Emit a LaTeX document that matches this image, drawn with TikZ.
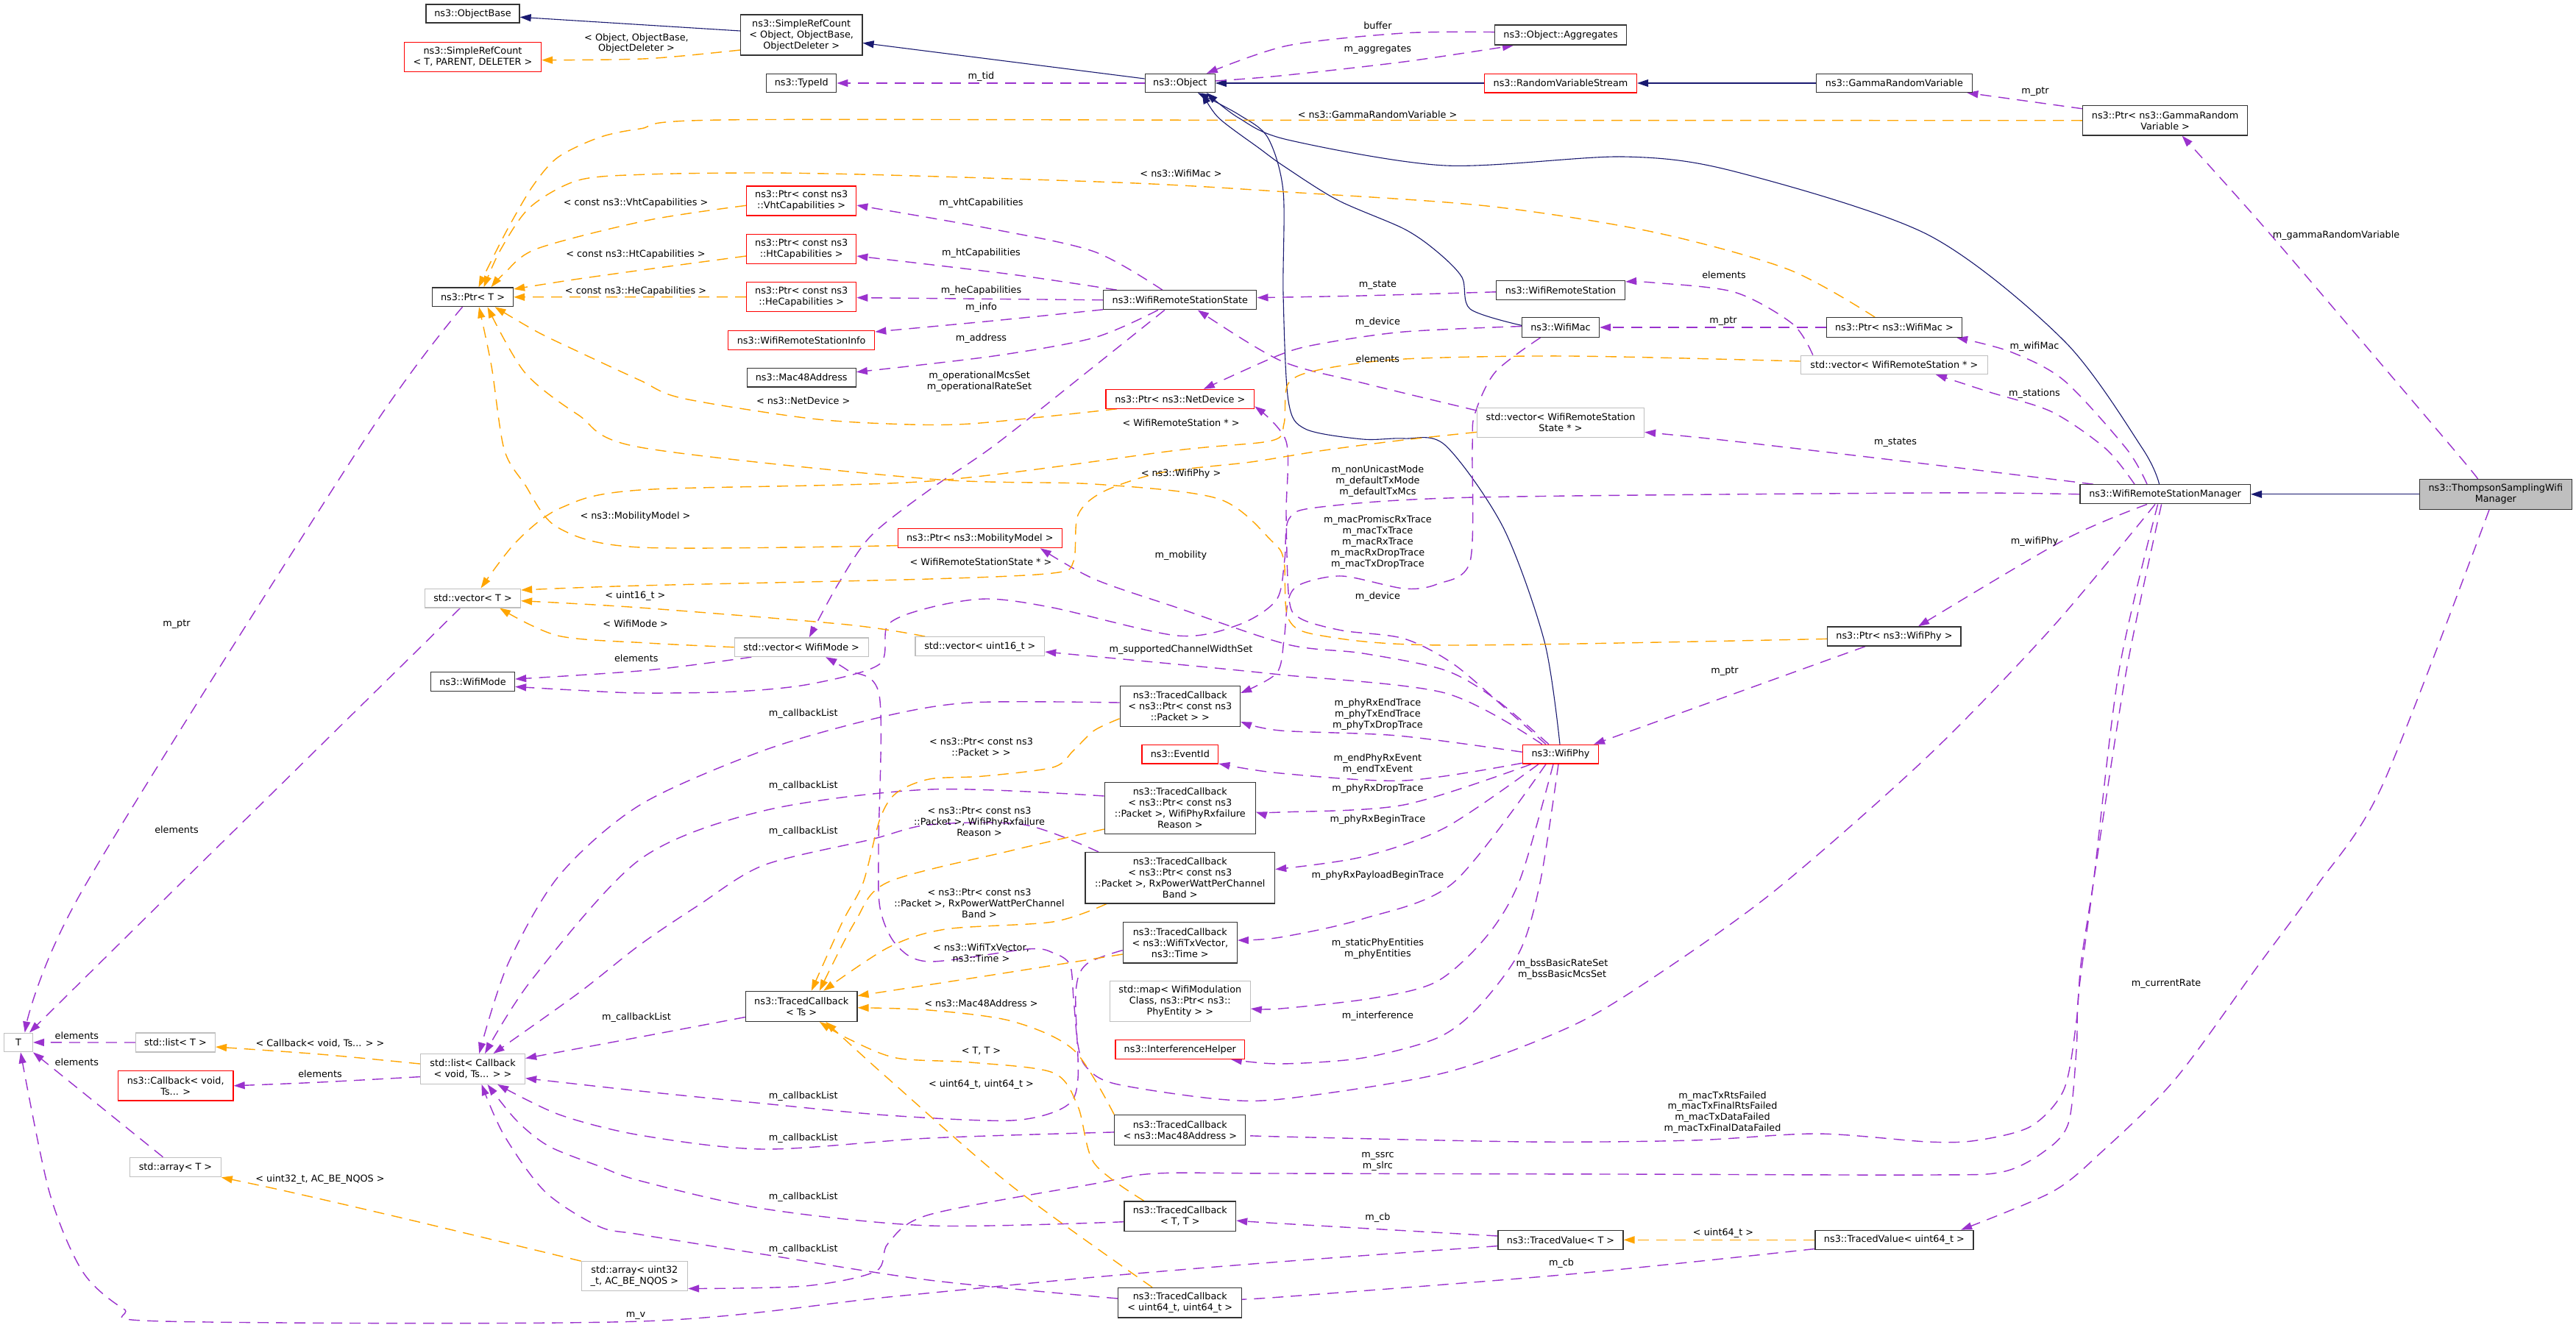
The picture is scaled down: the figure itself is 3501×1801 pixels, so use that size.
\documentclass[tikz,border=0pt]{standalone}
\usepackage{fontspec}
\setmainfont{DejaVu Sans}
\usetikzlibrary{arrows.meta}
\definecolor{cpurple}{HTML}{9A32CD}
\definecolor{corange}{HTML}{FFA500}
\definecolor{cnavy}{HTML}{191970}
\definecolor{cgrayb}{HTML}{BFBFBF}
\definecolor{cnode}{HTML}{333333}
\pgfdeclarelayer{bg}
\pgfsetlayers{bg,main}
\begin{document}
\begin{tikzpicture}[x=1pt,y=-1pt,
  every node/.style={font=\fontsize{12.8}{14.9}\selectfont, inner sep=0pt},
  box/.style={draw=cnode, fill=white, line width=1.3pt, align=center},
  boxred/.style={box, draw=red},
  boxgray/.style={box, draw=cgrayb},
  lbl/.style={align=center, text=black},
  einh/.style={draw=cnavy, line width=1.1pt, -{Triangle[length=15pt,width=10pt]}},
  euse/.style={draw=cpurple, line width=1.4pt, dash pattern=on 15pt off 10pt, -{Triangle[length=15pt,width=10pt]}},
  etmpl/.style={draw=corange, line width=1.4pt, dash pattern=on 15pt off 10pt, -{Triangle[length=15pt,width=10pt]}},
]
\useasboundingbox (0,0) rectangle (3501,1801);

% ---------------- nodes ----------------
\node[box, minimum width=127pt, minimum height=25pt] (objbase) at (642.5,18.5) {ns3::ObjectBase};
\node[boxred, minimum width=186pt, minimum height=40pt] (srcT) at (642.5,77.2) {ns3::SimpleRefCount\\< T, PARENT, DELETER >};
\node[box, minimum width=110pt, minimum height=25.6pt] (ptrT) at (642.5,403.8) {ns3::Ptr< T >};
\node[box, minimum width=165.5pt, minimum height=55pt] (srcO) at (1089.2,47.6) {ns3::SimpleRefCount\\< Object, ObjectBase,\\ObjectDeleter >};
\node[box, minimum width=95pt, minimum height=25pt] (typeid) at (1089.2,113) {ns3::TypeId};
\node[box, minimum width=95pt, minimum height=25pt] (object) at (1603.8,113) {ns3::Object};
\node[boxred, minimum width=149pt, minimum height=40pt] (vht) at (1089.2,273) {ns3::Ptr< const ns3\\::VhtCapabilities >};
\node[boxred, minimum width=149pt, minimum height=40pt] (ht) at (1089.2,338.5) {ns3::Ptr< const ns3\\::HtCapabilities >};
\node[boxred, minimum width=149pt, minimum height=40pt] (he) at (1089.2,403.6) {ns3::Ptr< const ns3\\::HeCapabilities >};
\node[boxred, minimum width=199pt, minimum height=26pt] (wrsinfo) at (1089.2,462.3) {ns3::WifiRemoteStationInfo};
\node[box, minimum width=148pt, minimum height=25.7pt] (mac48) at (1089.2,513) {ns3::Mac48Address};
\node[box, minimum width=208pt, minimum height=26pt] (wrss) at (1603.8,407.8) {ns3::WifiRemoteStationState};
\node[boxred, minimum width=201.5pt, minimum height=25.7pt] (ptrnd) at (1603.8,542.3) {ns3::Ptr< ns3::NetDevice >};
\node[box, minimum width=178.5pt, minimum height=27pt] (aggr) at (2121,47.6) {ns3::Object::Aggregates};
\node[boxred, minimum width=207pt, minimum height=25.7pt] (rvs) at (2121,113) {ns3::RandomVariableStream};
\node[box, minimum width=212pt, minimum height=25pt] (gamma) at (2574.4,113) {ns3::GammaRandomVariable};
\node[box, minimum width=175pt, minimum height=26pt] (wrs) at (2121,394.3) {ns3::WifiRemoteStation};
\node[box, minimum width=105pt, minimum height=26.5pt] (wmac) at (2121,445) {ns3::WifiMac};
\node[boxgray, minimum width=227pt, minimum height=40pt] (vecwrss) at (2121,574.4) {std::vector< WifiRemoteStation\\State * >};
\node[box, minimum width=183.6pt, minimum height=26.5pt] (ptrmac) at (2574.4,445) {ns3::Ptr< ns3::WifiMac >};
\node[boxgray, minimum width=254pt, minimum height=25.3pt] (vecwrs) at (2574.4,495.8) {std::vector< WifiRemoteStation * >};
\node[box, minimum width=223.7pt, minimum height=40.5pt] (ptrgamma) at (2942.6,163.8) {ns3::Ptr< ns3::GammaRandom\\Variable >};
\node[box, minimum width=231.5pt, minimum height=26pt] (wrsm) at (2942.6,671.8) {ns3::WifiRemoteStationManager};
\node[box, fill=cgrayb, minimum width=207.3pt, minimum height=41pt] (tsm) at (3391.8,671.8) {ns3::ThompsonSamplingWifi\\Manager};
\node[box, minimum width=181.4pt, minimum height=26pt] (ptrphy) at (2574.4,865) {ns3::Ptr< ns3::WifiPhy >};
\node[boxgray, minimum width=130pt, minimum height=25.7pt] (vecT) at (642.5,813) {std::vector< T >};
\node[box, minimum width=114pt, minimum height=25.7pt] (wmode) at (642.5,926.3) {ns3::WifiMode};
\node[boxred, minimum width=223.3pt, minimum height=26pt] (ptrmob) at (1331.8,731.6) {ns3::Ptr< ns3::MobilityModel >};
\node[boxgray, minimum width=182pt, minimum height=25.6pt] (vecwm) at (1089.2,879.7) {std::vector< WifiMode >};
\node[boxgray, minimum width=175.6pt, minimum height=26pt] (vecu16) at (1331.8,878.7) {std::vector< uint16\_t >};
\node[box, minimum width=163.3pt, minimum height=55.2pt] (tcpkt) at (1603.8,959.8) {ns3::TracedCallback\\< ns3::Ptr< const ns3\\::Packet > >};
\node[boxred, minimum width=103.8pt, minimum height=25.7pt] (eventid) at (1603.8,1025.2) {ns3::EventId};
\node[box, minimum width=205pt, minimum height=69.6pt] (tcfail) at (1603.8,1098.5) {ns3::TracedCallback\\< ns3::Ptr< const ns3\\::Packet >, WifiPhyRxfailure\\Reason >};
\node[box, minimum width=257.6pt, minimum height=69.3pt] (tcrxp) at (1603.8,1193.2) {ns3::TracedCallback\\< ns3::Ptr< const ns3\\::Packet >, RxPowerWattPerChannel\\Band >};
\node[box, minimum width=155pt, minimum height=55.3pt] (tctx) at (1603.8,1281.4) {ns3::TracedCallback\\< ns3::WifiTxVector,\\ns3::Time >};
\node[boxgray, minimum width=190.8pt, minimum height=55pt] (phymap) at (1603.8,1360.8) {std::map< WifiModulation\\Class, ns3::Ptr< ns3::\\PhyEntity > >};
\node[boxred, minimum width=175.6pt, minimum height=25.5pt] (interf) at (1603.8,1426.5) {ns3::InterferenceHelper};
\node[box, minimum width=178pt, minimum height=41pt] (tcmac) at (1603.8,1535.9) {ns3::TracedCallback\\< ns3::Mac48Address >};
\node[box, minimum width=151.5pt, minimum height=40.6pt] (tctt) at (1603.8,1653.2) {ns3::TracedCallback\\< T, T >};
\node[box, minimum width=168pt, minimum height=40.6pt] (tcu64) at (1603.8,1770.7) {ns3::TracedCallback\\< uint64\_t, uint64\_t >};
\node[box, minimum width=151.5pt, minimum height=41pt] (tcts) at (1089.2,1367.8) {ns3::TracedCallback\\< Ts >};
\node[boxgray, minimum width=144.3pt, minimum height=39.5pt] (arru32) at (862.4,1734.5) {std::array< uint32\\\_t, AC\_BE\_NQOS >};
\node[boxgray, minimum width=38.7pt, minimum height=25.5pt] (tT) at (25,1416.9) {T};
\node[boxgray, minimum width=107.8pt, minimum height=26pt] (listT) at (238.5,1417) {std::list< T >};
\node[boxred, minimum width=156.6pt, minimum height=40.6pt] (cbvoid) at (238.7,1475.8) {ns3::Callback< void,\\Ts... >};
\node[boxgray, minimum width=142pt, minimum height=40.6pt] (listcb) at (642.5,1453) {std::list< Callback\\< void, Ts... > >};
\node[boxgray, minimum width=123.4pt, minimum height=26.3pt] (arrT) at (238.5,1586.5) {std::array< T >};
\node[box, minimum width=170pt, minimum height=26pt] (tvT) at (2121,1685.3) {ns3::TracedValue< T >};
\node[box, minimum width=215pt, minimum height=26pt] (tvu64) at (2574.4,1685.3) {ns3::TracedValue< uint64\_t >};
\node[boxred, minimum width=103.3pt, minimum height=25.7pt] (wphy) at (2121,1025.2) {ns3::WifiPhy};

% ---------------- edges ----------------
\begin{pgfonlayer}{bg}
\fill[white] (0,0) rectangle (3501,1801);
% inheritance
\draw[einh] ([yshift=5.6pt]srcO.west) -- ([yshift=-4.8pt]objbase.east);
\draw[einh] ([yshift=6pt]object.west) -- ([yshift=-10.8pt]srcO.east);
\draw[einh] (rvs.west) -- (object.east);
\draw[einh] (gamma.west) -- (rvs.east);
\draw[einh] (tsm.west) -- (wrsm.east);
\draw[einh] plot[smooth] coordinates {([xshift=-8pt]wrsm.north) (2912,610) (2805,463) (2620,319) (2357,233) (2206,213) (1964,225) (1750,190) (1683,160) ([xshift=36pt]object.south)};
\draw[einh] plot[smooth] coordinates {([yshift=2.7pt]wmac.west) (1998,420) (1987,377) (1953,342) (1908,311) (1818,272) (1745,226) (1712,202) (1656,160) ([xshift=30pt]object.south)};
\draw[einh] plot[smooth] coordinates {([xshift=-1pt]wphy.north) (2099,872) (2043,717) (1964,605) (1908,596) (1852,597) (1774,583) (1751,545) (1744,400) (1744,260) (1723,187) (1684,156) ([xshift=24pt]object.south)};

% purple usage edges
\draw[euse] (object.west) -- (typeid.east);
\draw[euse] plot[smooth] coordinates {([yshift=4pt]aggr.west) (1908,45) (1750,62) ([xshift=36pt]object.north)};
\draw[euse] plot[smooth] coordinates {([yshift=3pt]object.east) (1740,103) (1908,84) ([xshift=-64pt]aggr.south)};
\draw[euse] plot[smooth] coordinates {([xshift=-24pt]wrss.north) (1487,342) (1347,311) ([yshift=-6pt]vht.east)};
\draw[euse] plot[smooth] coordinates {([xshift=-86pt]wrss.north) (1375,373) ([yshift=-9.5pt]ht.east)};
\draw[euse] (wrss.west) -- ([yshift=-1pt]he.east);
\draw[euse] plot[smooth] coordinates {([yshift=-13pt]wrss.west) (1350,436) ([yshift=11.3pt]wrsinfo.east)};
\draw[euse] plot[smooth] coordinates {([xshift=-30pt]wrss.south) (1487,459) (1350,484) ([yshift=7.3pt]mac48.east)};
\draw[euse] plot[smooth] coordinates {([xshift=-21pt]wrss.south) (1487,498) (1352,605) (1263,666) (1184,728) (1139,794) ([xshift=10.6pt]vecwm.north)};
\draw[euse] plot[smooth] coordinates {([yshift=-2.5pt]wrs.west) (1850,402) ([yshift=3.2pt]wrss.east)};
\draw[euse] plot[smooth] coordinates {([yshift=1.5pt]wmac.west) (1908,451) (1796,467) (1740,482) ([xshift=32pt]ptrnd.north)};
\draw[euse] (ptrmac.west) -- (wmac.east);
\draw[euse] plot[smooth] coordinates {([xshift=-110.6pt]vecwrs.north) (2436,440) (2357,397) (2245,384) ([yshift=11.3pt]wrs.east)};
\draw[euse] plot[smooth] coordinates {([xshift=-24.6pt]wrsm.north) (2890,610) (2805,517) (2732,478) ([xshift=84.7pt]ptrmac.south)};
\draw[euse] plot[smooth] coordinates {([xshift=-41.6pt]wrsm.north) (2862,610) (2789,560) (2704,533) ([xshift=56.4pt]vecwrs.south)};
\draw[euse] plot[smooth] coordinates {([xshift=-97.8pt]wrsm.north) (2621,631) (2358,600) ([yshift=-13pt]vecwrss.east)};
\draw[euse] plot[smooth] coordinates {([xshift=-24.8pt]tsm.north) (3334,610) (3086,319) ([xshift=23pt]ptrgamma.south)};
\draw[euse] ([yshift=16pt]ptrgamma.west) -- ([xshift=99pt]gamma.south);
\draw[euse] plot[smooth] coordinates {([xshift=-24.6pt]wrsm.south) (2805,734) ([xshift=32.7pt]ptrphy.north)};
\draw[euse] ([xshift=-39.3pt]ptrphy.south) -- ([xshift=45pt]wphy.north);
\draw[euse] plot[smooth] coordinates {(wrsm.west) (2620,670) (2004,676) (1796,689) (1752,705) (1746,760) (1735,815) (1684,849) (1600,864) (1431,826) (1341,814) (1263,826) (1207,849) (1195,903) (1100,930) (1000,940) (870,942) (780,938) ([yshift=-7.1pt]wmode.east)};
\draw[euse] plot[smooth] coordinates {([xshift=-27.4pt]wmac.south) (2032,506) (2004,564) (2001,610) (1998,763) (1953,794) (1908,800) (1824,783) (1768,794) (1751,815) (1745,870) (1735,915) ([yshift=17.8pt]tcpkt.east)};
\draw[euse] plot[smooth] coordinates {([xshift=-16pt]wphy.north) (2032,950) (1964,911) (1852,888) (1750,876) (1600,826) (1487,787) ([xshift=82pt]ptrmob.south)};
\draw[euse] plot[smooth] coordinates {([xshift=-20pt]wphy.north) (2054,970) (1976,903) (1908,868) (1824,857) (1768,841) (1752,815) (1748,700) (1748,600) ([yshift=-10pt]ptrnd.east)};
\draw[euse] plot[smooth] coordinates {([xshift=-25pt]wphy.north) (1964,942) (1740,917) (1600,903) ([yshift=-7.3pt]vecu16.east)};
\draw[euse] plot[smooth] coordinates {([yshift=3pt]wphy.west) (1900,1000) (1740,993) ([yshift=-21.2pt]tcpkt.east)};
\draw[euse] plot[smooth] coordinates {([yshift=-12pt]wphy.west) (1908,1061) (1740,1051) ([yshift=-12.8pt]eventid.east)};
\draw[euse] plot[smooth] coordinates {([xshift=-40pt]wphy.south) (1908,1094) (1740,1104) ([yshift=-5.2pt]tcfail.east)};
\draw[euse] plot[smooth] coordinates {([xshift=-30pt]wphy.south) (1964,1125) (1850,1165) ([yshift=11.6pt]tcrxp.east)};
\draw[euse] plot[smooth] coordinates {([xshift=-20pt]wphy.south) (1975,1200) (1852,1249) (1740,1274) ([yshift=3.4pt]tctx.east)};
\draw[euse] plot[smooth] coordinates {([xshift=-10pt]wphy.south) (2066,1195) (2021,1272) (1953,1334) (1864,1357) (1740,1371) ([yshift=-10.2pt]phymap.east)};
\draw[euse] plot[smooth] coordinates {([xshift=-3pt]wphy.south) (2094,1195) (2066,1292) (2009,1369) (1953,1411) (1852,1438) (1740,1446) ([xshift=69pt]interf.south)};
\draw[euse] plot[smooth] coordinates {([xshift=-13.6pt]wrsm.south) (2789,853) (2620,1028) (2413,1210) (2245,1330) (2133,1396) (1964,1458) (1750,1493) (1656,1494) (1515,1473) (1476,1450) (1465,1420) (1459,1357) (1454,1311) (1431,1295) (1397,1290) (1263,1307) (1218,1284) (1196,1234) (1194,1150) (1195,945) (1152,911) ([xshift=33pt]vecwm.south)};
\draw[euse] plot[smooth] coordinates {([xshift=-5pt]wrsm.south) (2890,911) (2845,1200) (2828,1311) (2822,1388) (2805,1481) (2760,1531) (2687,1550) (2620,1552) (2470,1541) (2300,1550) (2077,1552) (1740,1545) ([yshift=-7pt]tcmac.east)};
\draw[euse] plot[smooth] coordinates {([xshift=-10pt]wrsm.south) (2880,911) (2845,1200) (2825,1350) (2822,1427) (2811,1527) (2777,1566) (2721,1593) (2620,1597) (2200,1596) (1740,1595) (1571,1595) (1487,1609) (1263,1651) (1207,1690) (1190,1728) (1094,1748) ([yshift=-17pt]arru32.east)};
\draw[euse] plot[smooth] coordinates {([yshift=5.3pt]tvT.west) (1740,1663) ([yshift=-5.8pt]tctt.east)};
\draw[euse] plot[smooth] coordinates {([yshift=-12.2pt]tvu64.west) (2133,1732) (1740,1763) ([yshift=5.7pt]tcu64.east)};
\draw[euse] plot[smooth] coordinates {([xshift=-8.8pt]tsm.south) (3238,1067) (3148,1205) (3070,1311) (2957,1466) (2856,1566) (2789,1620) ([xshift=90.7pt]tvu64.north)};
\draw[euse] plot[smooth] coordinates {([yshift=-8.3pt]tvT.west) (1740,1715) (1487,1736) (1207,1763) (870,1796) (224,1796) (168,1779) (112,1728) (67,1620) ([xshift=3pt]tT.south)};
\draw[euse] plot[smooth] coordinates {([xshift=-14pt]ptrT.south) (494,600) (112,1210) ([xshift=8.7pt]tT.north)};
\draw[euse] plot[smooth] coordinates {([xshift=-17pt]vecT.south) (236,1210) ([xshift=15pt]tT.north)};
\draw[euse] (listT.west) -- (tT.east);
\draw[euse] ([xshift=-17pt]arrT.north) -- (tT.south east);
\draw[euse] plot[smooth] coordinates {([yshift=-10.6pt]listcb.west) (435,1471) (cbvoid.east)};
\draw[euse] plot[smooth] coordinates {([yshift=16.4pt]vecwrss.west) (1850,520) (1740,490) ([xshift=24pt]wrss.south)};
\draw[euse] plot[smooth] coordinates {([xshift=-68pt]vecwm.south) (880,911) ([yshift=3.3pt]wmode.east)};
% m_callbackList
\draw[euse] plot[smooth] coordinates {([yshift=4.8pt]tcpkt.west) (1319,955) (1196,975) (1038,1020) (870,1094) (760,1190) (690,1311) ([xshift=8.7pt]listcb.north)};
\draw[euse] plot[smooth] coordinates {([yshift=16.5pt]tcfail.west) (1263,1073) (1038,1102) (870,1168) (724,1330) ([xshift=16.5pt]listcb.north)};
\draw[euse] plot[smooth] coordinates {([xshift=-110.8pt]tcrxp.north) (1392,1121) (1263,1121) (1184,1141) (1038,1176) (950,1230) (870,1284) (786,1350) ([xshift=28pt]listcb.north)};
\draw[euse] plot[smooth] coordinates {([yshift=-14.7pt]tcts.west) (870,1409.5) ([yshift=14.5pt]listcb.east)};
\draw[euse] plot[smooth] coordinates {([yshift=-10.2pt]tctx.west) (1476,1311) (1462,1350) (1465,1466) (1448,1504) (1375,1523) (1207,1516) (1038,1500) (870,1483) ([yshift=-12.6pt]listcb.east)};
\draw[euse] plot[smooth] coordinates {([yshift=-3pt]tcmac.west) (1263,1547) (1038,1562) (870,1543) (760,1515) ([xshift=33.7pt]listcb.south)};
\draw[euse] plot[smooth] coordinates {([yshift=-7.5pt]tctt.west) (1263,1666) (1038,1643) (870,1605) (814,1585) (746,1558) (702,1523) ([xshift=20pt]listcb.south)};
\draw[euse] plot[smooth] coordinates {([yshift=5.7pt]tcu64.west) (1263,1740) (1038,1705) (870,1678) (814,1667) (741,1620) (685,1543) ([xshift=12pt]listcb.south)};

% orange template edges
\draw[etmpl] plot[smooth] coordinates {([yshift=-20.4pt]srcO.west) (880,79.7) ([yshift=-4.5pt]srcT.east)};
\draw[etmpl] plot[smooth] coordinates {(ptrgamma.west) (1750,163.4) (982,163) (870,175) (814,187) (758,214) (724,253) (690,311) (662,366) ([xshift=8pt]ptrT.north)};
\draw[etmpl] plot[smooth] coordinates {([xshift=-26.3pt]ptrmac.north) (2430,366) (2245,315) (2021,280) (1750,261) (1543,249) (1207,238) (1038,235) (880,237) (786,245) (720,282) (680,340) ([xshift=15pt]ptrT.north)};
\draw[etmpl] plot[smooth] coordinates {([yshift=-6.3pt]vht.west) (880,299.5) (730,338) (685,372) ([xshift=25pt]ptrT.north)};
\draw[etmpl] plot[smooth] coordinates {([yshift=-9.5pt]ht.west) (880,366) (780,380) ([yshift=10.8pt]ptrT.east)};
\draw[etmpl] (he.west) -- (ptrT.east);
\draw[etmpl] plot[smooth] coordinates {([xshift=-85.8pt]ptrnd.south) (1319,576) (1207,576) (1094,568) (926,541) (870,517) (786,478) (730,451) ([xshift=30pt]ptrT.south)};
\draw[etmpl] plot[smooth] coordinates {([yshift=-10pt]ptrmob.west) (870,744) (758,717) (713,658) (685,610) (668,498) ([xshift=8.5pt]ptrT.south)};
\draw[etmpl] plot[smooth] coordinates {([yshift=-3.4pt]ptrphy.west) (1964,877) (1796,864) (1751,841) (1745,763) (1729,736) (1656,678) (1487,658) (1263,651) (870,608) (786,564) (713,506) ([xshift=20pt]ptrT.south)};
\draw[etmpl] plot[smooth] coordinates {([yshift=4.8pt]vecwrs.west) (2133,484) (1908,488) (1796,502) (1751,521) (1745,576) (1728,599) (1600,612) (1263,654) (870,666) (763,690) (702,736) ([xshift=11pt]vecT.north)};
\draw[etmpl] plot[smooth] coordinates {([yshift=-13pt]vecwrss.west) (1908,598) (1800,612) (1700,628) (1580,642) (1500,668) (1465,700) (1459,763) (1431,779) (1263,787) (870,796) ([yshift=11pt]vecT.east)};
\draw[etmpl] plot[smooth] coordinates {([xshift=-74.6pt]vecu16.north) (1151,849) (870,826) ([yshift=-3.7pt]vecT.east)};
\draw[etmpl] plot[smooth] coordinates {(vecwm.west) (880,874) (758,864) ([xshift=36.5pt]vecT.south)};
\draw[etmpl] plot[smooth] coordinates {([yshift=-17pt]tcpkt.west) (1487,993) (1459,1020) (1431,1043) (1336,1055) (1263,1059) (1218,1078) (1196,1113) (1173,1200) (1145,1253) ([xshift=13.6pt]tcts.north)};
\draw[etmpl] plot[smooth] coordinates {([yshift=-28.5pt]tcfail.west) (1375,1156) (1207,1199) (1162,1253) ([xshift=24.6pt]tcts.north)};
\draw[etmpl] plot[smooth] coordinates {([xshift=-99.8pt]tcrxp.south) (1431,1253) (1285,1263) (1207,1288) ([xshift=30pt]tcts.north)};
\draw[etmpl] plot[smooth] coordinates {([yshift=-15.6pt]tctx.west) (1350,1325) ([yshift=14.3pt]tcts.east)};
\draw[etmpl] plot[smooth] coordinates {(tcmac.north west) (1459,1427) (1375,1388) (1263,1373) ([yshift=-1.9pt]tcts.east)};
\draw[etmpl] plot[smooth] coordinates {([xshift=-49pt]tctt.north) (1487,1581) (1465,1504) (1431,1458) (1319,1444) (1218,1438) (1151,1411) ([xshift=24.6pt]tcts.south)};
\draw[etmpl] plot[smooth] coordinates {([xshift=-37.8pt]tcu64.north) (1375,1612) (1207,1466) ([xshift=33pt]tcts.south)};
\draw[etmpl] (tvu64.west) -- (tvT.east);
\draw[etmpl] plot[smooth] coordinates {([yshift=7pt]listcb.west) (435,1433) ([yshift=-6pt]listT.east)};
\draw[etmpl] plot[smooth] coordinates {(arru32.north west) (561,1659) (393,1620) (arrT.south east)};
\end{pgfonlayer}

% ---------------- labels ----------------
\node[lbl] (l01) at (865,59) {< Object, ObjectBase,\\ObjectDeleter >};
\node[lbl] (l02) at (1333.5,104) {m\_tid};
\node[lbl] (l03) at (1872.4,35) {buffer};
\node[lbl] (l04) at (1872.4,68) {m\_aggregates};
\node[lbl] (l05) at (1872,155.6) {< ns3::GammaRandomVariable >};
\node[lbl] (l06) at (2766,125) {m\_ptr};
\node[lbl] (l07) at (3175,320) {m\_gammaRandomVariable};
\node[lbl] (l08) at (1605,236) {< ns3::WifiMac >};
\node[lbl] (l09) at (864,276) {< const ns3::VhtCapabilities >};
\node[lbl] (l10) at (1333.5,276) {m\_vhtCapabilities};
\node[lbl] (l11) at (864,346) {< const ns3::HtCapabilities >};
\node[lbl] (l12) at (1333.5,344) {m\_htCapabilities};
\node[lbl] (l13) at (864,395.6) {< const ns3::HeCapabilities >};
\node[lbl] (l14) at (1333.5,395.6) {m\_heCapabilities};
\node[lbl] (l15) at (1333.5,418) {m\_info};
\node[lbl] (l16) at (1333.5,460) {m\_address};
\node[lbl] (l17) at (1331,519) {m\_operationalMcsSet\\m\_operationalRateSet};
\node[lbl] (l18) at (1091.7,544.6) {< ns3::NetDevice >};
\node[lbl] (l19) at (1605,574.6) {< WifiRemoteStation * >};
\node[lbl] (l20) at (1872.4,388) {m\_state};
\node[lbl] (l21) at (1872.4,438.4) {m\_device};
\node[lbl] (l22) at (1872.4,488) {elements};
\node[lbl] (l23) at (2343,374) {elements};
\node[lbl] (l24) at (2342,436.5) {m\_ptr};
\node[lbl] (l25) at (2765,470.7) {m\_wifiMac};
\node[lbl] (l26) at (2765,535) {m\_stations};
\node[lbl] (l27) at (2576,602) {m\_states};
\node[lbl] (l28) at (1605,644) {< ns3::WifiPhy >};
\node[lbl] (l29) at (1872.4,654.5) {m\_nonUnicastMode\\m\_defaultTxMode\\m\_defaultTxMcs};
\node[lbl] (l30) at (863.5,702) {< ns3::MobilityModel >};
\node[lbl] (l31) at (1605,755.6) {m\_mobility};
\node[lbl] (l32) at (1333,763.4) {< WifiRemoteStationState * >};
\node[lbl] (l33) at (1872.4,737) {m\_macPromiscRxTrace\\m\_macTxTrace\\m\_macRxTrace\\m\_macRxDropTrace\\m\_macTxDropTrace};
\node[lbl] (l34) at (2765,736) {m\_wifiPhy};
\node[lbl] (l35) at (863.4,810) {< uint16\_t >};
\node[lbl] (l36) at (863.7,847.8) {< WifiMode >};
\node[lbl] (l37) at (864.8,894.5) {elements};
\node[lbl] (l38) at (1872.4,811.6) {m\_device};
\node[lbl] (l39) at (1605,883) {m\_supportedChannelWidthSet};
\node[lbl] (l40) at (2344,912.4) {m\_ptr};
\node[lbl] (l41) at (1872.4,971.5) {m\_phyRxEndTrace\\m\_phyTxEndTrace\\m\_phyTxDropTrace};
\node[lbl] (l42) at (1872.4,1039) {m\_endPhyRxEvent\\m\_endTxEvent};
\node[lbl] (l43) at (1872.4,1072.6) {m\_phyRxDropTrace};
\node[lbl] (l44) at (1872.4,1114.6) {m\_phyRxBeginTrace};
\node[lbl] (l45) at (1872.4,1190.5) {m\_phyRxPayloadBeginTrace};
\node[lbl] (l46) at (1872.4,1290) {m\_staticPhyEntities\\m\_phyEntities};
\node[lbl] (l47) at (1872.4,1381) {m\_interference};
\node[lbl] (l48) at (2123,1317.5) {m\_bssBasicRateSet\\m\_bssBasicMcsSet};
\node[lbl] (l49) at (2341,1512) {m\_macTxRtsFailed\\m\_macTxFinalRtsFailed\\m\_macTxDataFailed\\m\_macTxFinalDataFailed};
\node[lbl] (l50) at (1872.4,1579) {m\_ssrc\\m\_slrc};
\node[lbl] (l51) at (1872.4,1655) {m\_cb};
\node[lbl] (l52) at (2122,1716.8) {m\_cb};
\node[lbl] (l53) at (2342,1676) {< uint64\_t >};
\node[lbl] (l54) at (2944,1337) {m\_currentRate};
\node[lbl] (l55) at (864,1788) {m\_v};
\node[lbl] (l56) at (240,849) {m\_ptr};
\node[lbl] (l57) at (240,1128) {elements};
\node[lbl] (l58) at (104.4,1408) {elements};
\node[lbl] (l59) at (104.4,1444) {elements};
\node[lbl] (l60) at (435,1418) {< Callback< void, Ts... > >};
\node[lbl] (l61) at (435,1460) {elements};
\node[lbl] (l62) at (435,1603) {< uint32\_t, AC\_BE\_NQOS >};
\node[lbl] (l63) at (1091.7,970) {m\_callbackList};
\node[lbl] (l64) at (1091.7,1068) {m\_callbackList};
\node[lbl] (l65) at (1091.7,1130) {m\_callbackList};
\node[lbl] (l66) at (865,1383) {m\_callbackList};
\node[lbl] (l67) at (1091.7,1490) {m\_callbackList};
\node[lbl] (l68) at (1091.7,1547.5) {m\_callbackList};
\node[lbl] (l69) at (1091.7,1626.7) {m\_callbackList};
\node[lbl] (l70) at (1091.7,1698) {m\_callbackList};
\node[lbl] (l71) at (1333.5,1015) {< ns3::Ptr< const ns3\\::Packet > >};
\node[lbl] (l72) at (1331,1117) {< ns3::Ptr< const ns3\\::Packet >, WifiPhyRxfailure\\Reason >};
\node[lbl] (l73) at (1331,1227.5) {< ns3::Ptr< const ns3\\::Packet >, RxPowerWattPerChannel\\Band >};
\node[lbl] (l74) at (1333.5,1295) {< ns3::WifiTxVector,\\ns3::Time >};
\node[lbl] (l75) at (1333.5,1364) {< ns3::Mac48Address >};
\node[lbl] (l76) at (1333.5,1428.5) {< T, T >};
\node[lbl] (l77) at (1333.5,1474) {< uint64\_t, uint64\_t >};
\end{tikzpicture}
\end{document}
